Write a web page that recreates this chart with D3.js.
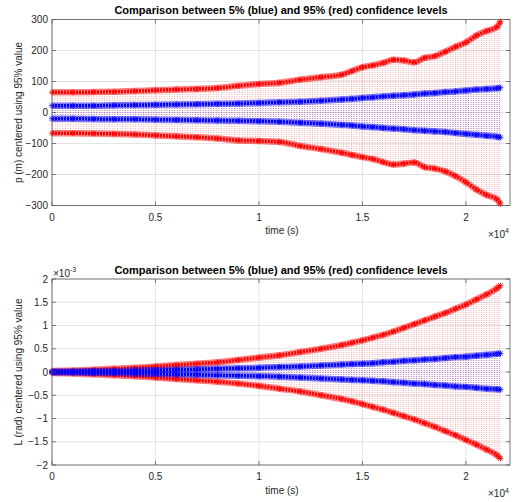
<!DOCTYPE html>
<html>
<head>
<meta charset="utf-8">
<script src="https://cdn.jsdelivr.net/npm/d3@7/dist/d3.min.js"></script>
<style>
  body { margin: 0; background: #fff; }
  text { font-family: Arial, "Liberation Sans", Helvetica, sans-serif; fill: #262626; }
</style>
</head>
<body>
<div id="chart"></div>
<script>
// time grid (s)
const timeS = [0, 1000, 2000, 3000, 4000, 5000, 6000, 7000, 8000, 9000, 10000, 11000, 12000, 13000, 14000,
               14500, 15000, 15500, 16000, 16500, 17000, 17500, 18000, 18500, 19000, 19500, 20000, 20500, 21000, 21500, 21670];

// p (m)
const pRedHi  = [65, 65, 66, 67, 69, 72, 74, 76, 79, 86, 92, 96, 106, 114, 122,
                 134, 146, 152, 160, 170, 168, 162, 176, 182, 196, 212, 226, 248, 263, 276, 294];
const pRedLo  = [-67, -67, -68, -69, -71, -74, -77, -80, -84, -90, -92, -95, -108, -118, -130,
                 -137, -144, -150, -160, -168, -165, -161, -176, -181, -190, -205, -225, -248, -266, -280, -295];
const pBlueHi = [22, 22, 22, 23, 24, 25, 26, 27, 28, 29, 31, 33, 35, 38, 42,
                 44, 47, 49, 52, 54, 56, 58, 61, 63, 66, 68, 71, 74, 76, 78, 80];
const pBlueLo = [-20, -20, -21, -22, -22, -23, -24, -25, -26, -27, -28, -30, -33, -36, -40,
                 -42, -45, -47, -50, -52, -54, -57, -59, -61, -63, -66, -69, -72, -75, -78, -80];

// L (rad), in units of 1e-3
const lRedHi  = [0.02, 0.03, 0.05, 0.07, 0.09, 0.12, 0.15, 0.18, 0.21, 0.26, 0.31, 0.36, 0.43, 0.50, 0.58,
                 0.63, 0.68, 0.74, 0.80, 0.87, 0.95, 1.03, 1.11, 1.19, 1.27, 1.36, 1.45, 1.56, 1.67, 1.80, 1.86];
const lRedLo  = [-0.02, -0.03, -0.05, -0.07, -0.09, -0.12, -0.15, -0.18, -0.21, -0.25, -0.30, -0.36, -0.42, -0.50, -0.58,
                 -0.63, -0.69, -0.75, -0.81, -0.88, -0.95, -1.02, -1.10, -1.18, -1.27, -1.36, -1.46, -1.56, -1.67, -1.79, -1.86];
const lBlueHi = [0.01, 0.01, 0.02, 0.02, 0.03, 0.04, 0.05, 0.06, 0.07, 0.08, 0.09, 0.11, 0.12, 0.14, 0.16,
                 0.17, 0.18, 0.19, 0.21, 0.22, 0.24, 0.25, 0.27, 0.28, 0.30, 0.32, 0.33, 0.35, 0.37, 0.39, 0.40];
const lBlueLo = [-0.01, -0.01, -0.02, -0.02, -0.03, -0.04, -0.05, -0.06, -0.07, -0.08, -0.09, -0.10, -0.12, -0.14, -0.16,
                 -0.17, -0.18, -0.19, -0.20, -0.22, -0.23, -0.25, -0.26, -0.28, -0.29, -0.31, -0.32, -0.34, -0.36, -0.37, -0.38];

const xTicks = [0, 5000, 10000, 15000, 20000];
const pTicks = [-300, -200, -100, 0, 100, 200, 300];
const lTicks = [-2, -1.5, -1, -0.5, 0, 0.5, 1, 1.5, 2];

const titleText = "Comparison between 5% (blue) and 95% (red) confidence levels";

const width = 514, height = 502;
const svg = d3.select("#chart").append("svg")
              .attr("width", width)
              .attr("height", height);

const defs = svg.append("defs");
function dotPattern(id, color, op) {
    const p = defs.append("pattern")
                  .attr("id", id)
                  .attr("patternUnits", "userSpaceOnUse")
                  .attr("width", 2.6)
                  .attr("height", 2);
    p.append("rect").attr("x", 0).attr("y", 0).attr("width", 1).attr("height", 1)
     .attr("fill", color).attr("fill-opacity", op);
}
dotPattern("dotRed", "#ff0000", 0.32);
dotPattern("dotBlue", "#0000ff", 0.3);

function drawPanel(cfg) {
    const left = 52, right = 510;
    const x = d3.scaleLinear().domain([0, 22130]).range([left, right]);
    const y = d3.scaleLinear().domain(cfg.yDomain).range([cfg.bottom, cfg.top]);
    const g = svg.append("g");

    // grid
    g.append("g").selectAll("line.gx")
     .data(xTicks).enter().append("line")
     .attr("x1", d => x(d)).attr("x2", d => x(d))
     .attr("y1", cfg.top).attr("y2", cfg.bottom)
     .attr("stroke", "#e3e3e3").attr("stroke-width", 1);
    g.append("g").selectAll("line.gy")
     .data(cfg.yTicks).enter().append("line")
     .attr("x1", left).attr("x2", right)
     .attr("y1", d => y(d)).attr("y2", d => y(d))
     .attr("stroke", "#e3e3e3").attr("stroke-width", 1);

    const rows = timeS.map((t, i) => ({t: t, rh: cfg.redHi[i], rl: cfg.redLo[i], bh: cfg.blueHi[i], bl: cfg.blueLo[i]}));

    const area = (hi, lo) => d3.area().x(d => x(d.t)).y0(d => y(d[lo])).y1(d => y(d[hi])).curve(d3.curveMonotoneX);
    g.append("path").datum(rows).attr("d", area("rh", "rl")).attr("fill", "url(#dotRed)");
    g.append("path").datum(rows).attr("d", area("bh", "bl")).attr("fill", "url(#dotBlue)");

    const keys = [["rh", "#ff0000"], ["rl", "#ff0000"], ["bh", "#0000ff"], ["bl", "#0000ff"]];
    keys.forEach(function (k) {
        const line = d3.line().x(d => x(d.t)).y(d => y(d[k[0]])).curve(d3.curveMonotoneX);
        g.append("path").datum(rows).attr("d", line)
         .attr("fill", "none").attr("stroke", k[1]).attr("stroke-opacity", 0.5)
         .attr("stroke-width", 6.5);
        g.append("path").datum(rows).attr("d", line)
         .attr("fill", "none").attr("stroke", k[1])
         .attr("stroke-width", 3.5).attr("stroke-dasharray", "2,1");
        // asterisk markers
        const m = g.append("g").selectAll("g").data(rows).enter().append("g")
                   .attr("transform", d => "translate(" + x(d.t) + "," + y(d[k[0]]) + ")");
        m.append("path")
         .attr("d", "M-3,0H3M0,-3V3M-2.2,-2.2L2.2,2.2M-2.2,2.2L2.2,-2.2")
         .attr("stroke", k[1]).attr("stroke-width", 0.8).attr("fill", "none");
    });

    // box
    g.append("rect").attr("x", left).attr("y", cfg.top)
     .attr("width", right - left).attr("height", cfg.bottom - cfg.top)
     .attr("fill", "none").attr("stroke", "#5a5a5a").attr("stroke-width", 0.8);

    // inward ticks on all sides
    const tl = 4;
    g.append("g").selectAll("path")
     .data(xTicks).enter().append("path")
     .attr("d", d => "M" + x(d) + "," + cfg.bottom + "v" + (-tl) + "M" + x(d) + "," + cfg.top + "v" + tl)
     .attr("stroke", "#5a5a5a").attr("stroke-width", 0.8);
    g.append("g").selectAll("path")
     .data(cfg.yTicks).enter().append("path")
     .attr("d", d => "M" + left + "," + y(d) + "h" + tl + "M" + right + "," + y(d) + "h" + (-tl))
     .attr("stroke", "#5a5a5a").attr("stroke-width", 0.8);

    // tick labels
    g.append("g").selectAll("text")
     .data(xTicks).enter().append("text")
     .attr("x", d => x(d)).attr("y", cfg.bottom + 15)
     .attr("text-anchor", "middle").style("font-size", "10px")
     .text(d => d3.format("~g")(d / 1e4));
    g.append("g").selectAll("text")
     .data(cfg.yTicks).enter().append("text")
     .attr("x", 48).attr("y", d => y(d)).attr("dy", "0.35em")
     .attr("text-anchor", "end").style("font-size", "10px")
     .text(d => d3.format("~g")(d));

    // labels
    g.append("text").attr("x", (left + right) / 2).attr("y", cfg.top - 5.5)
     .attr("text-anchor", "middle").style("font-size", "11px").style("font-weight", "bold")
     .style("fill", "#000")
     .text(titleText);
    g.append("text").attr("x", 282).attr("y", cfg.bottom + 28.5)
     .attr("text-anchor", "middle").style("font-size", "10px")
     .text("time (s)");
    g.append("text")
     .attr("transform", "translate(22," + ((cfg.top + cfg.bottom) / 2) + ") rotate(-90)")
     .attr("text-anchor", "middle").style("font-size", "10px")
     .text(cfg.yLabel);

    const ex = g.append("text").attr("x", 488).attr("y", cfg.bottom + 32).style("font-size", "10px");
    ex.append("tspan").text("\u00d710");
    ex.append("tspan").attr("dy", -4.5).style("font-size", "7px").text("4");

    if (cfg.yExp) {
        const ey = g.append("text").attr("x", 53).attr("y", cfg.top - 2.5).style("font-size", "10px");
        ey.append("tspan").text("\u00d710");
        ey.append("tspan").attr("dy", -4.5).style("font-size", "7px").text(cfg.yExp);
    }
}

drawPanel({top: 19.5, bottom: 205.5, yDomain: [-300, 300], yTicks: pTicks,
           redHi: pRedHi, redLo: pRedLo, blueHi: pBlueHi, blueLo: pBlueLo,
           yLabel: "p (m) centered using 95% value"});
drawPanel({top: 279, bottom: 465, yDomain: [-2, 2], yTicks: lTicks,
           redHi: lRedHi, redLo: lRedLo, blueHi: lBlueHi, blueLo: lBlueLo,
           yLabel: "L (rad) centered using 95% value", yExp: "-3"});
</script>
</body>
</html>
